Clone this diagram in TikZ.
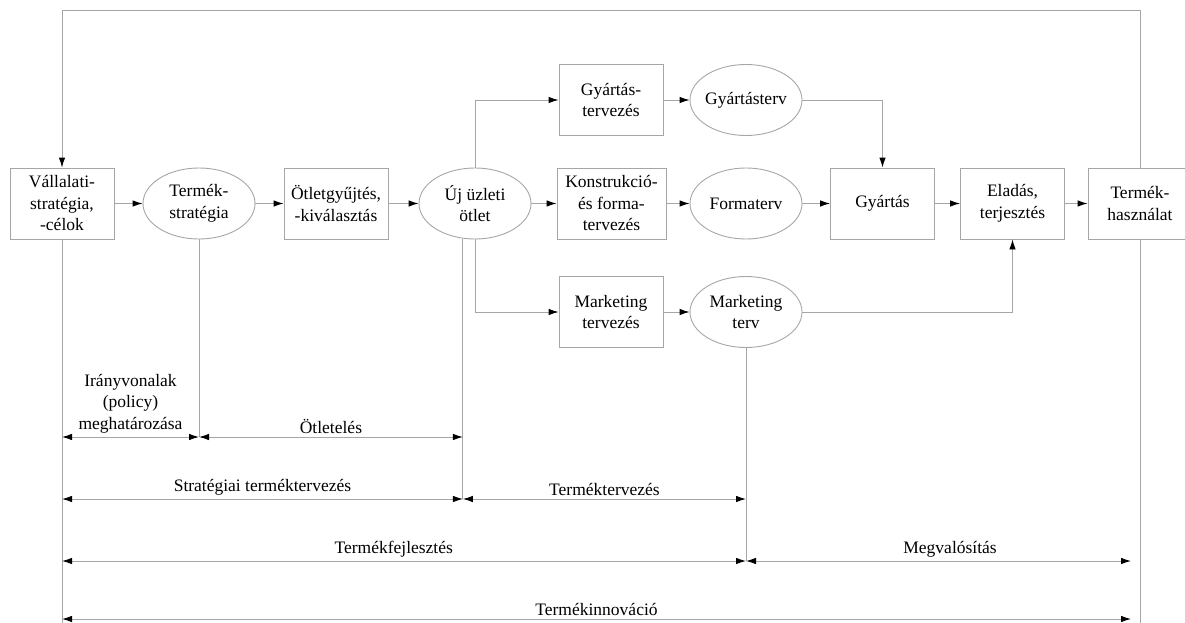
\documentclass[tikz,border=0pt]{standalone}
\usepackage{fontspec}
\setmainfont{Liberation Serif}
\usetikzlibrary{shapes.geometric,arrows.meta}

\tikzset{
  every node/.style={font=\fontsize{17.5}{21.5}\selectfont},
  box/.style={draw=gray!70, line width=0.9pt, minimum width=104pt, minimum height=71pt, inner sep=0pt, align=center},
  oval/.style={ellipse, draw=gray!70, line width=0.9pt, minimum width=112pt, minimum height=71pt, inner xsep=-8pt, inner ysep=0pt, align=center},
  conn/.style={draw=gray!70, line width=0.9pt},
  >={Latex[length=10pt, width=6.5pt, color=black]},
  flow/.style={conn, ->},
  dimline/.style={conn, <->},
}

\begin{document}
\begin{tikzpicture}[x=1pt,y=-1pt]
\useasboundingbox (0,0) rectangle (1185,623);
\node[box] (valstrat) at (62,203.5) {Vállalati-\\stratégia,\\-célok};
\node[oval] (termstrat) at (199,203.5) {Termék-\\stratégia};
\node[box] (otlet) at (336,203.5) {Ötletgyűjtés,\\-kiválasztás};
\node[oval] (ujotlet) at (475,203.5) {Új üzleti\\ötlet};
\node[box] (gyarttervezes) at (611,100) {Gyártás-\\tervezés};
\node[oval] (gyartterv) at (746,100) {Gyártásterv};
\node[box,minimum width=109pt] (konstr) at (611.5,203.5) {Konstrukció-\\és forma-\\tervezés};
\node[oval] (formaterv) at (746,203.5) {Formaterv};
\node[box] (marktervezes) at (611,312) {Marketing\\tervezés};
\node[oval] (markterv) at (746,312) {Marketing\\terv};
\node[box] (gyartas) at (882.5,203.5) {Gyártás};
\node[box] (eladas) at (1012.5,203.5) {Eladás,\\terjesztés};
\node[box] (hasznalat) at (1140,203.5) {Termék-\\használat};

\draw[flow] (valstrat) -- (termstrat);
\draw[flow] (termstrat) -- (otlet);
\draw[flow] (otlet) -- (ujotlet);
\draw[flow] (ujotlet) -- (konstr);
\draw[flow] (konstr) -- (formaterv);
\draw[flow] (formaterv) -- (gyartas);
\draw[flow] (gyartas) -- (eladas);
\draw[flow] (eladas) -- (hasznalat);
\draw[flow] (ujotlet.north) |- (gyarttervezes.west);
\draw[flow] (ujotlet.south) |- (marktervezes.west);
\draw[flow] (gyarttervezes) -- (gyartterv);
\draw[flow] (marktervezes) -- (markterv);
\draw[flow] (gyartterv) -| (gyartas);
\draw[flow] (markterv) -| (eladas);

\coordinate (topleft) at (62,10);
\draw[flow] (hasznalat.north) |- (topleft) -- (valstrat);

\coordinate (bottom) at (0,623);
\coordinate (rowa) at (0,437);
\coordinate (rowb) at (0,499);
\coordinate (rowc) at (0,561);
\coordinate (rowd) at (0,619);
\coordinate (rightend) at (1131,0);
\coordinate (split) at (ujotlet.251);

\draw[conn] (valstrat.south) -- (valstrat.south |- bottom);
\draw[conn] (hasznalat.south) -- (hasznalat.south |- bottom);
\draw[conn] (termstrat.south) -- (termstrat.south |- rowa);
\draw[conn] (split) -- (split |- rowb);
\draw[conn] (markterv.south) -- (markterv.south |- rowc);

\draw[dimline] (valstrat.south |- rowa) -- node[above,align=center]{Irányvonalak\\(policy)\\meghatározása} (termstrat.south |- rowa);
\draw[dimline] (termstrat.south |- rowa) -- node[above]{Ötletelés} (split |- rowa);
\draw[dimline] (valstrat.south |- rowb) -- node[above]{Stratégiai terméktervezés} (split |- rowb);
\draw[dimline] (split |- rowb) -- node[above]{Terméktervezés} (markterv.south |- rowb);
\draw[dimline] (valstrat.south |- rowc) -- node[above,pos=0.485]{Termékfejlesztés} (markterv.south |- rowc);
\draw[dimline] (markterv.south |- rowc) -- node[above,pos=0.53]{Megvalósítás} (rightend |- rowc);
\draw[dimline] (valstrat.south |- rowd) -- node[above]{Termékinnováció} (rightend |- rowd);
\end{tikzpicture}
\end{document}
